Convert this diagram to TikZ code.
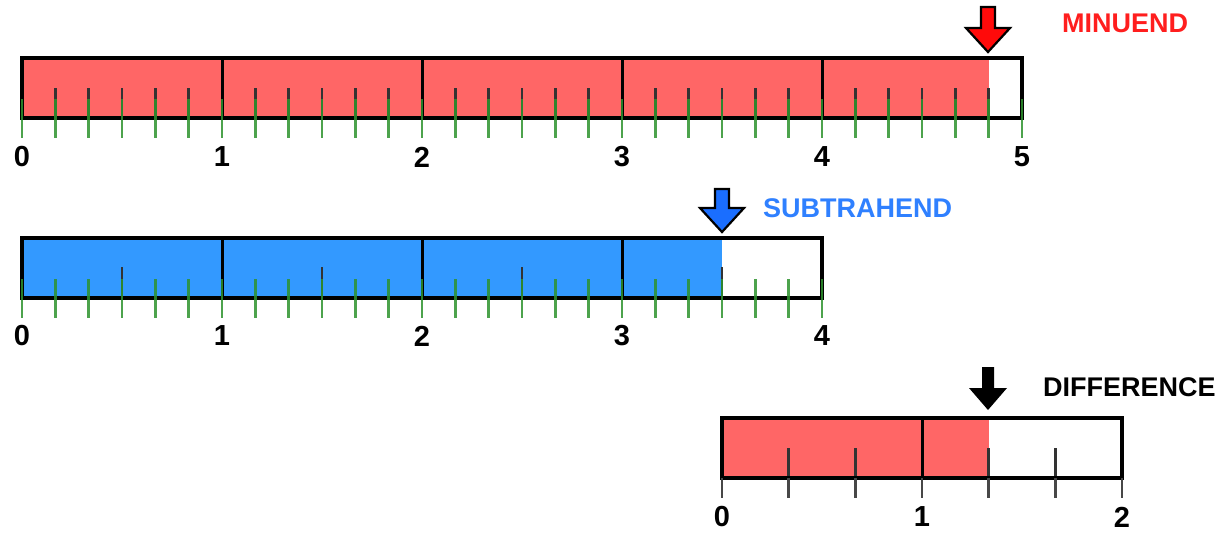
\documentclass[tikz,border=0pt]{standalone}
\usepackage{fontspec}
\setmainfont{Liberation Sans}
\definecolor{barred}{HTML}{FF6666}
\definecolor{barblue}{HTML}{3399FF}
\definecolor{tickgreen}{HTML}{2E932E}
\definecolor{arrred}{HTML}{FF0A0A}
\definecolor{arrblue}{HTML}{1A6EFF}
\definecolor{txtred}{HTML}{FF1E1E}
\definecolor{txtblue}{HTML}{2F80FF}
\begin{document}
\begin{tikzpicture}[x=1pt,y=-1pt,
  frame/.style={draw=black, line width=3.6pt, inner sep=0pt, outer sep=0pt, anchor=north west},
  divider/.style={black, line width=3pt},
  innertick/.style={black!80, line width=2.4pt},
  greentick/.style={tickgreen, line width=2.6pt, opacity=0.85},
  graytick/.style={black!72, line width=2.4pt},
  num/.style={font=\fontsize{29}{30}\selectfont\bfseries, inner sep=0pt},
  title/.style={font=\fontsize{27}{28}\selectfont\bfseries, inner sep=0pt, anchor=west},
  blockarrow/.style={draw=black, line width=2.2pt, line join=miter}
]
\useasboundingbox (0,0) rectangle (1223,533);

% ---------- Minuend bar ----------
\fill[barred] (22,58) rectangle (988.7,118);
\foreach \i in {1,...,29}{
  \pgfmathtruncatemacro\r{mod(\i,6)}
  \ifnum\r>0 \draw[innertick] ({22+\i*200/6},88) -- ({22+\i*200/6},118);\fi
}
\node[frame, minimum width=1000pt, minimum height=60pt] (minbar) at (22,58) {};
\foreach \k in {1,...,4}{\draw[divider] ({22+\k*200},58) -- ({22+\k*200},118);}
\foreach \i in {0,...,30}{\draw[greentick] ({22+\i*200/6},99) -- ({22+\i*200/6},138);}
\foreach \k in {0,...,5}{\node[num] (mn\k) at ({22+\k*200},157) {\k};}

% minuend arrow and label
\coordinate (mtip) at (988,52);
\filldraw[blockarrow, fill=arrred, shift={(mtip)}] (-7,-45) -- (7,-45) -- (7,-24) -- (22,-24) -- (0,0) -- (-22,-24) -- (-7,-24) -- cycle;
\node[title, text=txtred] (minlabel) at (1062,23) {MINUEND};

% ---------- Subtrahend bar ----------
\fill[barblue] (22,238) rectangle (722,298);
\foreach \h in {0.5,1.5,2.5,3.5}{\draw[innertick] ({22+\h*200},267) -- ({22+\h*200},298);}
\node[frame, minimum width=800pt, minimum height=60pt] (subbar) at (22,238) {};
\foreach \k in {1,...,3}{\draw[divider] ({22+\k*200},238) -- ({22+\k*200},298);}
\foreach \i in {0,...,24}{\draw[greentick] ({22+\i*200/6},279) -- ({22+\i*200/6},318);}
\foreach \k in {0,...,4}{\node[num] (sn\k) at ({22+\k*200},336) {\k};}

\coordinate (stip) at (722,232);
\filldraw[blockarrow, fill=arrblue, shift={(stip)}] (-7,-43) -- (7,-43) -- (7,-24) -- (22,-24) -- (0,0) -- (-22,-24) -- (-7,-24) -- cycle;
\node[title, text=txtblue] (sublabel) at (763,208) {SUBTRAHEND};

% ---------- Difference bar ----------
\fill[barred] (722,418) rectangle (988.7,478);
\foreach \i in {1,2,4,5}{\draw[innertick] ({722+\i*200/3},448) -- ({722+\i*200/3},478);}
\node[frame, minimum width=400pt, minimum height=60pt] (difbar) at (722,418) {};
\draw[divider] (922,418) -- (922,478);
\foreach \i in {0,...,6}{\draw[graytick] ({722+\i*200/3},478) -- ({722+\i*200/3},498);}
\foreach \k in {0,...,2}{\node[num] (dn\k) at ({722+\k*200},517) {\k};}

\coordinate (dtip) at (988,410);
\fill[black, shift={(dtip)}] (-6,-43) -- (6,-43) -- (6,-22) -- (19,-22) -- (0,0) -- (-19,-22) -- (-6,-22) -- cycle;
\node[title, text=black] (diflabel) at (1043,387) {DIFFERENCE};
\end{tikzpicture}
\end{document}
